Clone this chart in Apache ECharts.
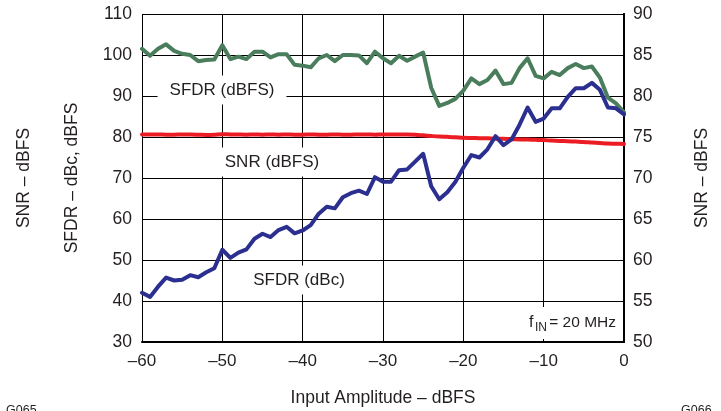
<!DOCTYPE html>
<html>
<head>
<meta charset="utf-8">
<script src="https://cdn.jsdelivr.net/npm/echarts@6/dist/echarts.min.js"></script>
<style>
  html, body { margin: 0; padding: 0; background: #ffffff; }
  #chart { width: 721px; height: 411px; }
</style>
</head>
<body>
<div id="chart"></div>
<script>
// Input amplitude sweep, dBFS
const inputDbfs = [
  -60, -59, -58, -57, -56, -55, -54, -53, -52, -51,
  -50, -49, -48, -47, -46, -45, -44, -43, -42, -41,
  -40, -39, -38, -37, -36, -35, -34, -33, -32, -31,
  -30, -29, -28, -27, -26, -25, -24, -23, -22, -21,
  -20, -19, -18, -17, -16, -15, -14, -13, -12, -11,
  -10, -9, -8, -7, -6, -5, -4, -3, -2, -1, 0
];

// SFDR referred to full scale (left axis)
const sfdrDbfs = [
  101.5, 99.8, 101.5, 102.6, 101.0, 100.3, 100.0, 98.5, 98.8, 98.9,
  102.4, 99.0, 99.6, 99.0, 100.8, 100.8, 99.4, 100.2, 100.2, 97.6,
  97.4, 97.0, 99.2, 100.0, 98.5, 100.0, 100.0, 99.9, 98.0, 100.8,
  99.2, 98.0, 99.8, 98.6, 99.6, 100.6, 92.0, 87.6, 88.3, 89.3,
  91.3, 94.3, 92.9, 93.9, 96.2, 92.9, 93.2, 96.8, 99.2, 94.9,
  94.3, 95.9, 95.1, 96.8, 97.8, 96.8, 97.2, 94.5, 89.6, 88.2, 86.0
];

// SFDR referred to carrier (left axis)
const sfdrDbc = [
  42.0, 41.0, 43.5, 45.7, 45.0, 45.2, 46.3, 45.8, 47.0, 48.0,
  52.5, 50.5, 51.8, 52.6, 55.2, 56.4, 55.6, 57.3, 58.1, 56.5,
  57.2, 58.5, 61.3, 63.0, 62.6, 65.3, 66.3, 66.9, 66.1, 70.2,
  69.1, 69.1, 71.9, 72.1, 74.0, 75.9, 68.0, 64.8, 66.5, 69.0,
  72.5, 75.6, 75.0, 77.0, 80.2, 78.0, 79.4, 83.0, 87.2, 83.7,
  84.5, 87.0, 87.0, 89.8, 91.9, 91.9, 93.2, 91.5, 87.2, 87.0, 85.5
];

// SNR (right axis)
const snrDbfs = [
  75.30, 75.30, 75.30, 75.28, 75.28, 75.30, 75.30, 75.28, 75.25, 75.28,
  75.35, 75.32, 75.30, 75.28, 75.30, 75.28, 75.30, 75.28, 75.30, 75.28,
  75.28, 75.30, 75.28, 75.28, 75.30, 75.28, 75.28, 75.30, 75.30, 75.28,
  75.32, 75.32, 75.30, 75.30, 75.28, 75.20, 75.12, 75.05, 75.02, 74.98,
  74.90, 74.88, 74.86, 74.84, 74.80, 74.78, 74.74, 74.70, 74.68, 74.65,
  74.62, 74.56, 74.52, 74.48, 74.44, 74.40, 74.32, 74.26, 74.20, 74.18, 74.15
];

// Axis ticks
const xTicks = { min: -60, max: 0, step: 10 };
const leftTicks = { min: 30, max: 110, step: 10 };
const rightTicks = { min: 50, max: 90, step: 5 };

const FONT = 'Liberation Sans, Arial, Helvetica, sans-serif';
const INK = '#231f20';
const pairs = (ys) => inputDbfs.map((x, i) => [x, ys[i]]);
const dash = (v) => String(v).replace('-', '\u2013');

const chart = echarts.init(document.getElementById('chart'), null, { renderer: 'canvas' });

const boxLabel = (text, cx, cy, padH, padV) => ({
  type: 'text',
  x: cx, y: cy, z: 1,
  style: {
    text: text,
    fontFamily: FONT, fontSize: 17, fill: INK,
    align: 'center', verticalAlign: 'middle',
    backgroundColor: '#ffffff',
    padding: [padV, padH, padV, padH]
  }
});

const plainText = (text, x, y, size, rot, align) => ({
  type: 'text',
  x: x, y: y, rotation: rot || 0, z: 3,
  style: {
    text: text,
    fontFamily: FONT, fontSize: size, fill: INK,
    align: align || 'center', verticalAlign: 'middle'
  }
});

chart.setOption({
  backgroundColor: '#ffffff',
  animation: false,
  grid: { left: 142, right: 97, top: 14, bottom: 69, containLabel: false },
  xAxis: {
    type: 'value',
    min: xTicks.min, max: xTicks.max, interval: xTicks.step,
    axisLine: { show: true, onZero: false, lineStyle: { color: '#000', width: 2 } },
    axisTick: { show: false },
    axisLabel: { color: INK, fontFamily: FONT, fontSize: 17, margin: 11, formatter: dash },
    splitLine: { show: true, lineStyle: { color: '#000', width: 1 } }
  },
  yAxis: [
    {
      type: 'value', position: 'left',
      min: leftTicks.min, max: leftTicks.max, interval: leftTicks.step,
      axisLine: { show: true, lineStyle: { color: '#000', width: 2 } },
      axisTick: { show: false },
      axisLabel: { color: INK, fontFamily: FONT, fontSize: 17.5, margin: 10 },
      splitLine: { show: true, lineStyle: { color: '#000', width: 1 } }
    },
    {
      type: 'value', position: 'right',
      min: rightTicks.min, max: rightTicks.max, interval: rightTicks.step,
      axisLine: { show: true, lineStyle: { color: '#000', width: 2 } },
      axisTick: { show: false },
      axisLabel: { color: INK, fontFamily: FONT, fontSize: 17.5, margin: 9 },
      splitLine: { show: false }
    }
  ],
  series: [
    {
      name: 'SFDR (dBFS)', type: 'line', yAxisIndex: 0,
      data: pairs(sfdrDbfs), showSymbol: false, z: 3,
      lineStyle: { color: '#4a7d5c', width: 4, join: 'round', cap: 'round' }
    },
    {
      name: 'SNR (dBFS)', type: 'line', yAxisIndex: 1,
      data: pairs(snrDbfs), showSymbol: false, z: 3, smooth: 0.3,
      lineStyle: { color: '#ec1c24', width: 4, join: 'round', cap: 'round' }
    },
    {
      name: 'SFDR (dBc)', type: 'line', yAxisIndex: 0,
      data: pairs(sfdrDbc), showSymbol: false, z: 4,
      lineStyle: { color: '#2b2f8f', width: 4, join: 'round', cap: 'round' }
    }
  ],
  graphic: [
    boxLabel('SFDR (dBFS)', 222, 90, 12, 6),
    boxLabel('SNR (dBFS)', 272, 162, 8, 6),
    boxLabel('SFDR (dBc)', 299, 280, 8, 6),
    {
      type: 'rect', z: 1,
      shape: { x: 520, y: 307, width: 100, height: 32 },
      style: { fill: '#ffffff' }
    },
    plainText('f', 529, 323, 16, 0, 'left'),
    plainText('IN', 535, 328, 12, 0, 'left'),
    plainText('= 20 MHz', 616, 323, 15.5, 0, 'right'),
    plainText('SFDR \u2013 dBc, dBFS', 72, 178, 17.5, Math.PI / 2),
    plainText('SNR \u2013 dBFS', 24, 178, 17.5, Math.PI / 2),
    plainText('SNR \u2013 dBFS', 702, 178, 17.5, Math.PI / 2),
    plainText('Input Amplitude \u2013 dBFS', 383, 398, 17.5, 0),
    plainText('G065', 6, 411, 12.5, 0, 'left'),
    plainText('G066', 681, 411, 12.5, 0, 'left')
  ]
});
</script>
</body>
</html>
